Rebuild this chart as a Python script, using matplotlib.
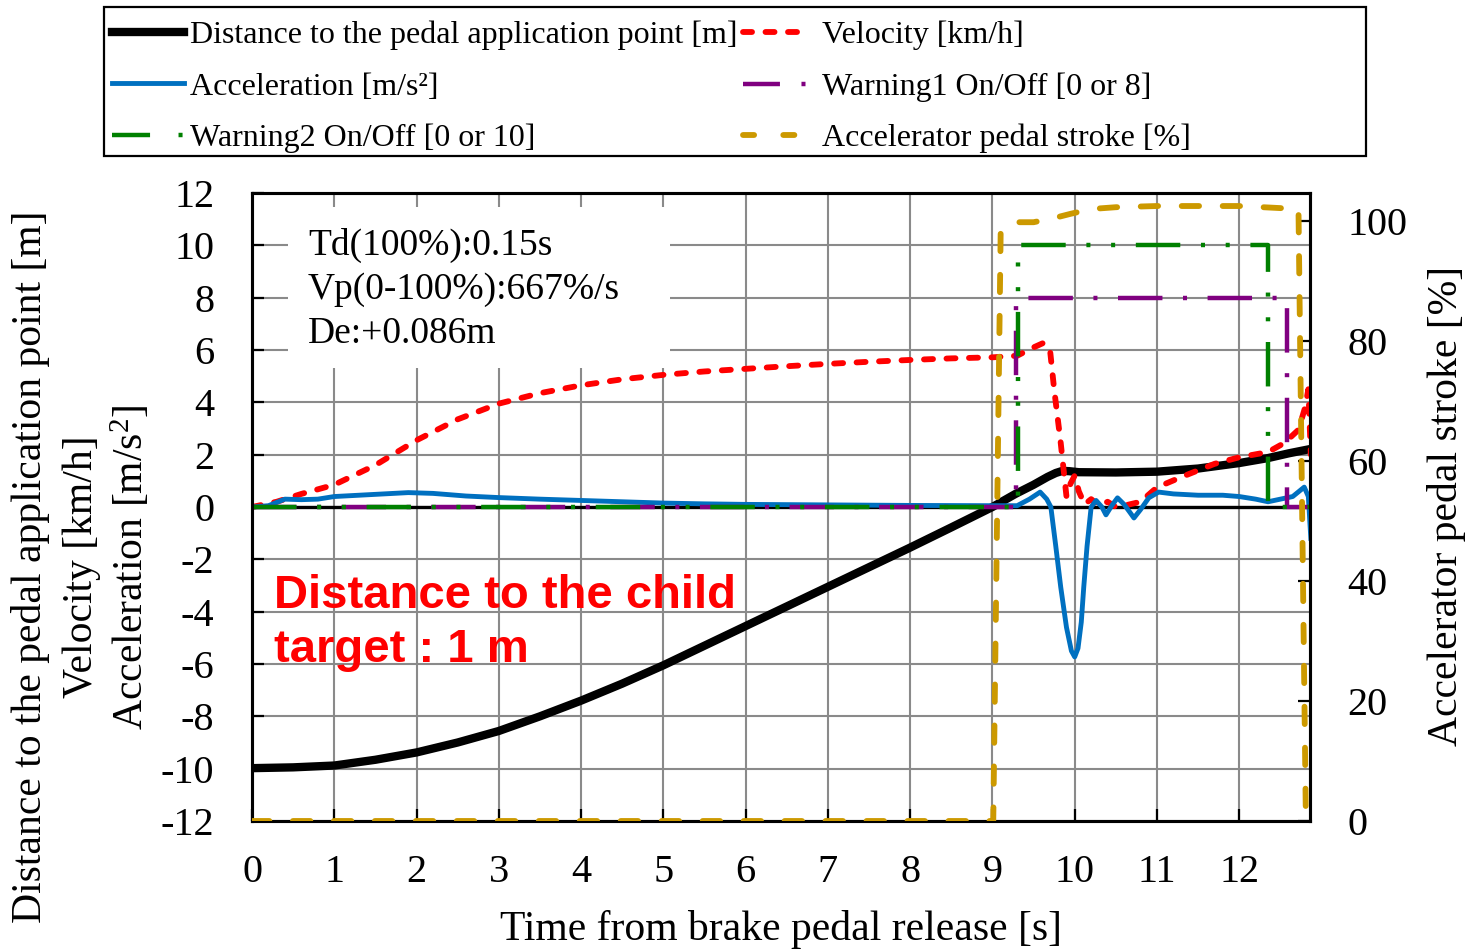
import matplotlib
matplotlib.use('Agg')
import matplotlib.pyplot as plt
from matplotlib.patches import Rectangle
from matplotlib.lines import Line2D

plt.rcParams['font.family'] = ['Liberation Serif', 'DejaVu Serif']
plt.rcParams['mathtext.fontset'] = 'custom'
plt.rcParams['mathtext.rm'] = 'Liberation Serif'
plt.rcParams['mathtext.default'] = 'regular'
plt.rcParams['axes.unicode_minus'] = False
plt.rcParams['lines.scale_dashes'] = False

# distance to the pedal application point [m]
dist_t = [0, 0.5, 1.0, 1.5, 2.0, 2.5, 3.0, 3.5, 4.0, 4.5, 5.0, 5.5, 6.0, 6.5, 7.0, 7.5,
          8.0, 8.5, 9.0, 9.28, 9.5, 9.67, 9.77, 9.85, 9.93, 10.05, 10.5, 11.0, 11.5, 12.0,
          12.35, 12.6, 12.87]
dist = [-9.98, -9.95, -9.88, -9.66, -9.38, -9.0, -8.56, -8.0, -7.4, -6.75, -6.05, -5.3, -4.55,
        -3.8, -3.05, -2.3, -1.55, -0.78, 0.0, 0.5, 0.85, 1.15, 1.3, 1.38, 1.37, 1.33, 1.32,
        1.35, 1.47, 1.68, 1.87, 2.05, 2.22]

# velocity [km/h]
vel_t = [0, 0.3, 0.6, 1.0, 1.5, 2.0, 2.5, 3.0, 3.5, 4.0, 4.5, 5.0, 5.5, 6.0, 6.5, 7.0, 7.5,
         8.0, 8.5, 9.0, 9.3, 9.5, 9.62, 9.7, 9.75, 9.83, 9.9, 9.95, 10.0, 10.05, 10.12, 10.2,
         10.3, 10.4, 10.5, 10.6, 10.8, 11.0, 11.3, 11.7, 12.0, 12.35, 12.55, 12.72, 12.8,
         12.84, 12.87]
vel = [0, 0.2, 0.5, 0.85, 1.6, 2.55, 3.35, 3.95, 4.35, 4.65, 4.88, 5.05, 5.18, 5.28, 5.38,
       5.47, 5.55, 5.62, 5.68, 5.72, 5.78, 6.1, 6.27, 6.0, 4.5, 2.45, 0.4, 0.9, 1.2, 0.6, 0.1,
       0.3, 0.05, 0.2, 0.0, 0.05, 0.2, 0.75, 1.15, 1.65, 1.9, 2.1, 2.45, 2.95, 3.8, 4.5, 2.0]

# acceleration [m/s2]
acc_t = [0, 0.2, 0.4, 0.6, 0.8, 1.0, 1.3, 1.6, 1.9, 2.2, 2.6, 3.0, 3.5, 4.0, 4.5, 5.0, 5.5,
         6.0, 7.0, 8.0, 9.0, 9.3, 9.45, 9.58, 9.66, 9.71, 9.77, 9.83, 9.9, 9.96, 10.0, 10.04,
         10.08, 10.11, 10.15, 10.2, 10.26, 10.33, 10.38, 10.45, 10.52, 10.6, 10.67, 10.72,
         10.8, 10.9, 11.02, 11.2, 11.5, 11.8, 12.0, 12.2, 12.35, 12.5, 12.65, 12.79, 12.84,
         12.87]
acc = [0, 0.05, 0.3, 0.28, 0.3, 0.4, 0.45, 0.5, 0.55, 0.52, 0.42, 0.36, 0.3, 0.25, 0.2,
       0.15, 0.12, 0.1, 0.08, 0.06, 0.05, 0.05, 0.3, 0.57, 0.3, 0.0, -1.5, -3.06, -4.6, -5.5,
       -5.73, -5.4, -4.4, -3.06, -1.5, 0.0, 0.25, 0.0, -0.3, 0.05, 0.35, 0.1, -0.2, -0.42,
       -0.1, 0.35, 0.57, 0.5, 0.45, 0.45, 0.4, 0.3, 0.2, 0.3, 0.4, 0.76, 0.4, -1.2]

# warnings (step signals)
w1_t = [0, 9.29, 12.58, 12.87]
w1 = [0, 8, 0, 0]
w2_t = [0, 9.31, 12.35, 12.87]
w2 = [0, 10, 0, 0]

# accelerator pedal stroke [%]
pedal_t = [0, 9.01, 9.1, 9.25, 9.5, 9.75, 9.95, 10.2, 10.5, 11.0, 12.0, 12.72, 12.81, 12.87]
pedal = [0, 0, 98.0, 99.8, 99.8, 100.5, 101.2, 102.0, 102.3, 102.5, 102.5, 102.0, 0, 0]

W, H = 1468, 950
fig = plt.figure(figsize=(W / 100, H / 100), dpi=100)
ax = fig.add_axes([252 / W, 1 - 821 / H, (1310 - 252) / W, (821 - 193) / H])
ax2 = ax.twinx()

ax.set_xlim(0, 12.86)
ax.set_ylim(-12, 12)
ax2.set_ylim(0, 104.67)
ax.set_xticks(range(13))
ax.set_yticks(range(-12, 13, 2))
ax2.set_yticks(range(0, 101, 20))

ax.set_axisbelow(True)
ax.grid(True, color='#8a8a8a', lw=1.5)
for a in (ax, ax2):
    for s in a.spines.values():
        s.set_linewidth(2.2)
ax.tick_params(direction='in', length=8.5, width=1.6, labelsize=29)
ax.tick_params(axis='x', pad=24)
ax.tick_params(axis='y', pad=27)
ax2.tick_params(direction='in', length=8.5, width=1.6, labelsize=29, pad=27)

# white box behind the annotation
ax.add_patch(Rectangle(((288 - 252) / 1058, (821 - 368) / 628), (670 - 288) / 1058,
                       (368 - 207) / 628, transform=ax.transAxes, facecolor='white',
                       edgecolor='none', zorder=1))

RED, BLUE, PURPLE, GREEN, GOLD = '#ff0000', '#0070c0', '#800080', '#008000', '#cc9900'

ax.axhline(0, color='black', lw=2.4, zorder=2)
ax.plot(dist_t, dist, color='black', lw=6, zorder=3)
ax.plot(vel_t, vel, color=RED, lw=4.2, dashes=(6.5, 9.7), dash_capstyle='round', zorder=4)
ax.plot(acc_t, acc, color=BLUE, lw=3.5, zorder=5)
ax.plot(w1_t, w1, color=PURPLE, lw=3.2, drawstyle='steps-post',
        dashes=(32, 14.8, 2.9, 14.8), zorder=6)
ax.plot(w2_t, w2, color=GREEN, lw=3.2, drawstyle='steps-post',
        dashes=(32, 14.9, 2.9, 14.9, 2.9, 14.9), zorder=6)
ax2.plot(pedal_t, pedal, color=GOLD, lw=4.2, dashes=(12.5, 17), dash_capstyle='round',
         zorder=3)

ax.text(0.68, 6.27, 'Td(100%):0.15s\nVp(0-100%):667%/s\nDe:+0.086m', fontsize=27,
        va='baseline', ha='left', linespacing=1.36, zorder=7)
ax.text(0.27, -5.92, 'Distance to the child\ntarget : 1 m', fontsize=34, color=RED,
        fontweight='bold', family='Liberation Sans', va='baseline', ha='left',
        linespacing=1.3, zorder=7)

# axis labels
fig.text(31 / W, 1 - 567 / H, 'Distance to the pedal application point [m]', rotation=90,
         ha='center', va='center', fontsize=30)
fig.text(82 / W, 1 - 567 / H, 'Velocity [km/h]', rotation=90, ha='center', va='center',
         fontsize=30)
fig.text(131 / W, 1 - 567 / H, 'Acceleration [m/s$^{2}$]', rotation=90, ha='center',
         va='center', fontsize=30)
fig.text(1446 / W, 1 - 506 / H, 'Accelerator pedal stroke [%]', rotation=90, ha='center',
         va='center', fontsize=30)
fig.text(781 / W, 1 - 940 / H, 'Time from brake pedal release [s]', ha='center',
         va='baseline', fontsize=30)

# legend handles (shorter dash patterns as in the legend box)
h_dist = Line2D([], [], color='black', lw=6)
h_vel = Line2D([], [], color=RED, lw=4.2, dashes=(6.5, 9.7), dash_capstyle='round')
h_acc = Line2D([], [], color=BLUE, lw=3.5)
h_w1 = Line2D([], [], color=PURPLE, lw=3.2, dashes=(26.6, 15.5, 2.9, 20))
h_w2 = Line2D([], [], color=GREEN, lw=3.2, dashes=(27.4, 20.5, 2.9, 20))
h_ped = Line2D([], [], color=GOLD, lw=4.2, dashes=(8, 21), dash_capstyle='round')

fig.legend([h_dist, h_acc, h_w2],
           ['Distance to the pedal application point [m]', 'Acceleration [m/s²]',
            'Warning2 On/Off [0 or 10]'],
           loc='upper left', bbox_to_anchor=(112 / W, 1 - 21 / H),
           frameon=False, borderpad=0, borderaxespad=0, fontsize=23, handlelength=2.26,
           handletextpad=0.18, labelspacing=0.68)
fig.legend([h_vel, h_w1, h_ped],
           ['Velocity [km/h]', 'Warning1 On/Off [0 or 8]', 'Accelerator pedal stroke [%]'],
           loc='upper left', bbox_to_anchor=(743 / W, 1 - 21 / H),
           frameon=False, borderpad=0, borderaxespad=0, fontsize=23, handlelength=2.04,
           handletextpad=0.42, labelspacing=0.68)
fig.add_artist(Rectangle((104 / W, 1 - 156 / H), (1366 - 104) / W, (156 - 7) / H,
                         transform=fig.transFigure, facecolor='none', edgecolor='black', lw=1.6))

fig.savefig('out.png', dpi=100)
